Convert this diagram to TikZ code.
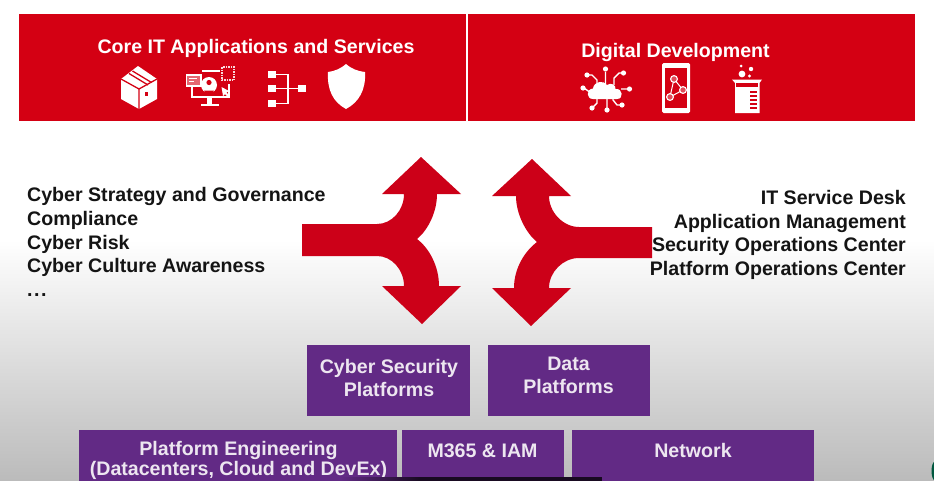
\documentclass[tikz,border=0pt]{standalone}
\usepackage{fontspec}
\setmainfont{Liberation Sans}
\definecolor{topred}{HTML}{D40013}
\definecolor{arrowred}{HTML}{CC0018}
\definecolor{plum}{HTML}{622A85}
\definecolor{plumtext}{HTML}{EDE6F0}
\definecolor{inktext}{HTML}{141414}
\tikzset{
  redband/.style={fill=topred,draw=none},
  plumbox/.style={fill=plum,draw=none},
  arrowshape/.style={fill=arrowred,draw=none},
  bandtitle/.style={anchor=base,text=white,font=\bfseries\fontsize{19.6}{21}\selectfont,inner sep=0pt},
  leftlist/.style={anchor=base west,text=inktext,font=\bfseries\fontsize{19.6}{21}\selectfont,inner sep=0pt},
  rightlist/.style={anchor=base east,text=inktext,font=\bfseries\fontsize{19.6}{21}\selectfont,inner sep=0pt},
  plumlabel/.style={anchor=base,text=plumtext,font=\bfseries\fontsize{19.6}{21}\selectfont,inner sep=0pt},
  iconfill/.style={fill=white,draw=none},
  iconline/.style={draw=white,line width=1.7pt},
  iconcut/.style={draw=topred,line width=1.3pt},
}
\begin{document}
\begin{tikzpicture}[x=1pt,y=-1pt]
\useasboundingbox (0,0) rectangle (934,480);
% background
\fill[white] (0,0) rectangle (934,240);
\shade[top color=white,bottom color=black!27] (0,240) rectangle (934,483);

% top bands
\fill[redband] (19,14) rectangle (466,121);
\fill[redband] (468,14) rectangle (915,121);
\node[bandtitle] (coretitle) at (256,53) {Core IT Applications and Services};
\node[bandtitle] (digitaltitle) at (675.5,57) {Digital Development};

% box icon
\fill[iconfill] (138,66) -- (157,79) -- (157,99) -- (139,109) -- (121,99) -- (121,79) -- cycle;
\draw[iconcut] (121,79) -- (139,89) -- (157,79) (139,89) -- (139,109);
\draw[iconcut] (129,73.5) -- (148,85) (132.5,71) -- (151.5,82.5);
\fill[topred] (145,92) rectangle (148,96);

% monitor icon
\draw[iconline] (192,86) -- (192,97) -- (229,97) -- (229,84) (202,71) -- (221,71);
\fill[iconfill] (207,97) rectangle (212,104);
\fill[iconfill] (201,103.5) rectangle (219,106);
\fill[iconfill] (209,85) circle (8);
\fill[topred] (209,82.5) circle (2.6);
\fill[topred] (204,90.5) arc (180:0:5 and 4) -- cycle;
\fill[topred!60!white,draw=white,line width=1.3pt] (186.5,75) rectangle (201,86);
\draw[white,line width=1pt] (189,78.5) -- (197,78.5) (189,81.5) -- (194,81.5);
\fill[topred] (220,65) rectangle (236,82);
\draw[white!85!topred,line width=2pt,dash pattern=on 1.5pt off 1pt] (222,67) rectangle (234,80);
\fill[topred] (220,86) rectangle (228,96);
\fill[iconfill] (221.5,87) -- (229,91) -- (226.5,92.5) -- (229.5,95.5) -- (228,97) -- (225,94) -- (223,96) -- cycle;

% hierarchy icon
\fill[iconfill] (268,71) rectangle (276,78);
\fill[iconfill] (268,85) rectangle (276,92);
\fill[iconfill] (268,100) rectangle (276,107);
\fill[iconfill] (298,85) rectangle (306,92);
\draw[white,line width=1.2pt] (276,74.5) -- (288,74.5) -- (288,103.5) -- (276,103.5) (276,88.5) -- (298,88.5);

% shield icon
\fill[iconfill] (346,64) .. controls (340,69) and (335,71) .. (328,72)
  .. controls (327,90) and (333,102) .. (346,109)
  .. controls (359,102) and (366,90) .. (365,72)
  .. controls (357,71) and (352,69) .. (346,64) -- cycle;

% cloud icon
\draw[white,line width=1.4pt]
  (605.5,72) -- (605.5,84)
  (588,75) -- (592,75) -- (597,80) -- (597,85)
  (623,73) -- (619,73) -- (614,78) -- (614,85)
  (584,88) -- (591,93)
  (629,89) -- (621,89)
  (592,108) -- (597,103) -- (597,97)
  (607,110) -- (607,97)
  (622,105) -- (617,105) -- (613,100) -- (613,97);
\foreach \cx/\cy in {605.5/69,587/75,623.5/73,583/88,629.5/89,592/108,607/110,622/105}{
  \fill[iconfill] (\cx,\cy) circle (2.6);
}
\fill[iconfill] (593,99)
  .. controls (586,99) and (586,89) .. (593,88.5)
  .. controls (594,81) and (604,80) .. (607,85)
  .. controls (611,82) and (616,85) .. (615.5,89)
  .. controls (623,88) and (624,99) .. (617,99) -- cycle;

% phone icon
\fill[iconfill,rounded corners=1.5pt] (662,63) rectangle (690,113);
\fill[topred] (665,68) rectangle (687,108);
\draw[white,line width=1pt] (674,79) -- (683,90) -- (670,97) -- cycle;
\foreach \cx/\cy in {674/79,683/90,670/97}{
  \fill[white!30!topred,draw=white,line width=1.1pt] (\cx,\cy) circle (3.4);
}

% beaker icon
\fill[iconfill] (732,79.5) -- (762,79.5) -- (759.5,83) -- (759.5,113) -- (735,113) -- (735,83) -- cycle;
\fill[topred] (736,83) rectangle (758,87);
\foreach \ty in {91,95,99,103,107}{
  \fill[topred] (750,\ty) rectangle (757,\ty+1.6);
}
\fill[iconfill] (742,74) circle (3.4);
\fill[iconfill] (751,69) circle (2.2);
\fill[iconfill] (741,66) circle (1.5);
\fill[iconfill] (749.5,76) circle (1.6);

% side texts
\node[leftlist] (l1) at (27,201.5) {Cyber Strategy and Governance};
\node[leftlist] (l2) at (27,225.5) {Compliance};
\node[leftlist] (l3) at (27,249) {Cyber Risk};
\node[leftlist] (l4) at (27,272.5) {Cyber Culture Awareness};
\node[leftlist] (l5) at (27,296.5) {.\kern1.5pt.\kern1.5pt.};
\node[rightlist] (r1) at (906,204) {IT Service Desk};
\node[rightlist] (r2) at (906,228) {Application Management};
\node[rightlist] (r3) at (906,251.5) {Security Operations Center};
\node[rightlist] (r4) at (906,275) {Platform Operations Center};

% left double arrow
\fill[arrowshape] (302,224) -- (377,224)
  .. controls (392,224) and (404,210) .. (404,194)
  -- (382,194) -- (421,157) -- (461,194) -- (437,194)
  .. controls (437,212) and (428,230) .. (417,239)
  .. controls (429,248) and (439,266) .. (439,286)
  -- (461,286) -- (422,324) -- (382,286) -- (404,286)
  .. controls (404,270) and (392,256) .. (377,256)
  -- (302,256) -- cycle;

% right double arrow
\fill[arrowshape] (652,227) -- (579,227)
  .. controls (563,227) and (549,212) .. (549,196)
  -- (571,196) -- (532,159) -- (492,196) -- (516,196)
  .. controls (516,214) and (526,233) .. (537,242)
  .. controls (525,251) and (514,268) .. (514,288)
  -- (492,288) -- (531,326) -- (571,288) -- (549,288)
  .. controls (549,272) and (563,258) .. (579,258)
  -- (652,258) -- cycle;

% purple boxes
\path[plumbox] (307,345) rectangle (470,416);
\path[plumbox] (488,345) rectangle (650,416);
\path[plumbox] (79,430) rectangle (397,483);
\path[plumbox] (402,430) rectangle (564,483);
\path[plumbox] (572,430) rectangle (814,483);
\node[plumlabel] (cs1) at (389,373) {Cyber Security};
\node[plumlabel] (cs2) at (389,396.5) {Platforms};
\node[plumlabel] (dp1) at (568.5,370) {Data};
\node[plumlabel] (dp2) at (568.5,393.5) {Platforms};
\node[plumlabel] (pe1) at (238.5,455) {Platform Engineering};
\node[plumlabel] (pe2) at (238.5,475.5) {(Datacenters, Cloud and DevEx)};
\node[plumlabel] (m3) at (482.5,457) {M365 \& IAM};
\node[plumlabel] (nw) at (693,457) {Network};

% screen-capture remnants along the lower edge
\shade[left color=plum,right color=black!75!plum] (340,477) rectangle (420,483);
\fill[black!75!plum] (420,477) rectangle (602,483);
\fill[black!45!teal!90!green] (935,471) ellipse (3.5 and 9.5);
\end{tikzpicture}
\end{document}
